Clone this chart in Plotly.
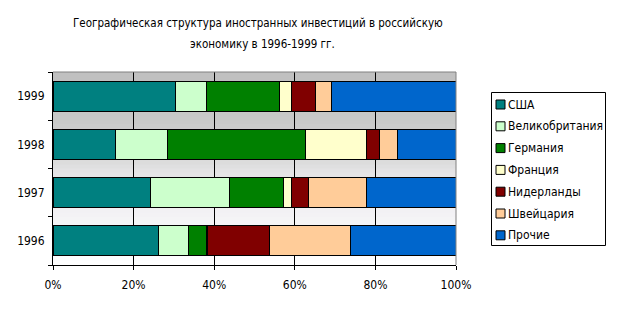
import plotly.graph_objects as go

years = ["1996", "1997", "1998", "1999"]
countries = ["США", "Великобритания", "Германия", "Франция", "Нидерланды", "Швейцария", "Прочие"]
usa = [26.1, 24.1, 15.6, 30.5]
uk = [7.6, 19.6, 12.7, 7.7]
germany = [4.4, 13.4, 34.3, 17.9]
france = [0.3, 2.0, 15.2, 3.2]
netherlands = [15.4, 4.2, 3.1, 5.8]
switzerland = [20.1, 14.4, 4.5, 3.9]
others = [26.1, 22.3, 14.6, 31.0]
series = [usa, uk, germany, france, netherlands, switzerland, others]
colors = ["#008080", "#ccffcc", "#008000", "#ffffcc", "#800000", "#ffcc99", "#0066cc"]
x_ticks = [0, 20, 40, 60, 80, 100]
x_tick_labels = ["0%", "20%", "40%", "60%", "80%", "100%"]
title_lines = ["Географическая структура иностранных инвестиций в российскую",
               "экономику в 1996-1999 гг."]

FONT = "Liberation Sans Narrow, DejaVu Sans Condensed, Arial Narrow, sans-serif"

# plot area in pixels (for converting layout positions to paper fractions)
PL, PR, PT, PB = 53, 456, 72, 265
def px(x):
    return (x - PL) / (PR - PL)
def py(y):
    return (PB - y) / (PB - PT)

fig = go.Figure()
for name, vals, col in zip(countries, series, colors):
    fig.add_trace(go.Bar(
        y=years, x=vals, name=name, orientation="h", showlegend=False,
        marker=dict(color=col, line=dict(color="black", width=1)),
    ))

# background gradient of the plot area
stops = [(0.0, (255, 255, 255)), (0.02, (255, 255, 255)), (0.25, (244, 243, 246)),
         (0.49, (227, 226, 228)), (0.53, (220, 220, 220)), (0.75, (200, 201, 200)),
         (0.98, (192, 192, 192)), (1.0, (192, 192, 192))]

def col_at(p):
    for (p0, c0), (p1, c1) in zip(stops[:-1], stops[1:]):
        if p0 <= p <= p1:
            t = 0 if p1 == p0 else (p - p0) / (p1 - p0)
            return "rgb(%d,%d,%d)" % tuple(round(a + (b - a) * t) for a, b in zip(c0, c1))
    return "white"

n = 48
shapes = []
for i in range(n):
    y0, y1 = i / n, min(1.0, (i + 1.6) / n)
    shapes.append(dict(type="rect", xref="paper", yref="paper", x0=0, x1=1, y0=y0, y1=y1,
                       fillcolor=col_at((i + 0.5) / n), line=dict(width=0), layer="below"))
shapes.append(dict(type="line", xref="paper", yref="paper", x0=0, x1=1, y0=1, y1=1,
                   line=dict(color="#808080", width=1)))
shapes.append(dict(type="line", xref="paper", yref="paper", x0=1, x1=1, y0=0, y1=1,
                   line=dict(color="#808080", width=1)))

annotations = [
    dict(text=title_lines[0], xref="paper", yref="paper", x=px(258), y=py(23),
         xanchor="center", yanchor="middle", showarrow=False,
         font=dict(family=FONT, size=11.5, color="black")),
    dict(text=title_lines[1], xref="paper", yref="paper", x=px(262), y=py(44),
         xanchor="center", yanchor="middle", showarrow=False,
         font=dict(family=FONT, size=11.5, color="black")),
]

# legend box drawn as layout decoration
shapes.append(dict(type="rect", xref="paper", yref="paper",
                   x0=px(491.5), x1=px(605.5), y0=py(245.5), y1=py(92.5),
                   fillcolor="white", line=dict(color="black", width=1)))
for i, (name, col) in enumerate(zip(countries, colors)):
    cy = 104.5 + i * 21.8
    shapes.append(dict(type="rect", xref="paper", yref="paper",
                       x0=px(496), x1=px(505), y0=py(cy + 4.5), y1=py(cy - 4.5),
                       fillcolor=col, line=dict(color="black", width=1)))
    annotations.append(dict(text=name, xref="paper", yref="paper", x=px(506), y=py(cy),
                            xanchor="left", yanchor="middle", showarrow=False,
                            font=dict(family=FONT, size=12, color="black")))

fig.update_layout(
    width=617, height=313,
    margin=dict(l=PL, r=617 - PR, t=PT, b=313 - PB, autoexpand=False),
    barmode="stack", bargap=0.38,
    paper_bgcolor="white", plot_bgcolor="rgba(0,0,0,0)",
    shapes=shapes, annotations=annotations, showlegend=False,
    font=dict(family=FONT, size=12, color="black"),
    xaxis=dict(range=[0, 100], tickvals=x_ticks, ticktext=x_tick_labels,
               showgrid=True, gridcolor="black", gridwidth=1, zeroline=False,
               showline=True, linecolor="black", linewidth=1,
               ticks="outside", ticklen=4, tickcolor="black",
               ticklabelstandoff=5,
               tickfont=dict(size=12), layer="above traces"),
    yaxis=dict(showgrid=False, showline=True, linecolor="black", linewidth=1,
               ticks="outside", ticklen=4, tickcolor="black", tickson="boundaries",
               ticklabelstandoff=5,
               tickfont=dict(size=12), zeroline=False),
)
fig.write_html("out.html")
